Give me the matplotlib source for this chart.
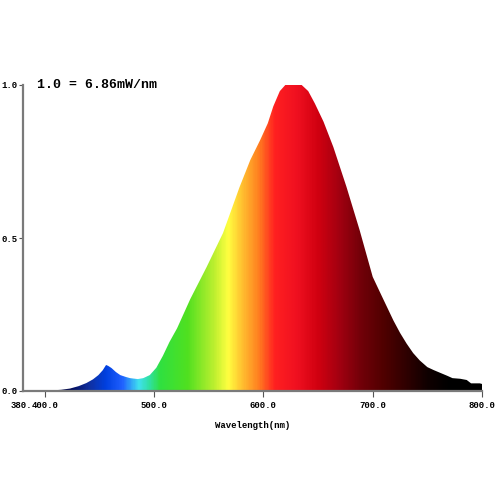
import numpy as np
import matplotlib
matplotlib.use("Agg")
import matplotlib.pyplot as plt
from matplotlib.colors import LinearSegmentedColormap

# spectrum, relative intensity, 1.0 = 6.86 mW/nm
wavelength = [380, 400, 407, 415, 423, 431, 438, 444, 449, 453, 456, 458, 461, 465,
              469, 474, 478, 485, 490, 496, 502, 508, 514, 521, 533, 548, 563,
              578, 588, 597, 604, 609, 615, 620, 635, 641, 647, 655, 664,
              676, 688, 700, 707, 713, 719, 725, 731, 737, 743, 750, 756, 762,
              768, 773, 780, 786, 790, 798, 800]
intensity = [0.0, 0.0, 0.002, 0.004, 0.008, 0.016, 0.026, 0.038, 0.052, 0.068, 0.085,
             0.082, 0.075, 0.062, 0.052, 0.046, 0.042, 0.039, 0.042, 0.052, 0.076,
             0.115, 0.16, 0.205, 0.3, 0.405, 0.516, 0.665, 0.755, 0.82, 0.875,
             0.93, 0.98, 1.0, 1.0, 0.98, 0.94, 0.88, 0.797, 0.667, 0.526, 0.373,
             0.32, 0.275, 0.23, 0.19, 0.155, 0.124, 0.1, 0.078, 0.068, 0.059,
             0.05, 0.042, 0.04, 0.036, 0.025, 0.025, 0.023]

x_ticks = [400, 500, 600, 700, 800]
x_ticklabels = ["400.0", "500.0", "600.0", "700.0", "800.0"]
y_ticks = [0.0, 0.5, 1.0]
y_ticklabels = ["0.0", "0.5", "1.0"]

# colour of the fill along the wavelength axis
color_nm = [380, 420, 440, 455, 470, 485, 495, 505, 530, 555, 567, 580, 595,
            610, 630, 650, 670, 690, 710, 730, 750, 770, 800]
color_hex = ["#000030", "#000850", "#1030a0", "#0040e0", "#2060ff", "#40e0f0",
             "#30e0a0", "#30e040", "#50e020", "#c0f030", "#ffff40", "#ffc030",
             "#ff8020", "#ff2020", "#f01020", "#d00010", "#a00010", "#700008",
             "#500000", "#300000", "#100000", "#000000", "#000000"]

mono = "Liberation Mono"

fig = plt.figure(figsize=(5, 5), dpi=100)
ax = fig.add_axes([23 / 500, 1 - 391 / 500, (482 - 23) / 500, (391 - 85) / 500])

pos = [(v - 380) / (800 - 380) for v in color_nm]
cmap = LinearSegmentedColormap.from_list("spec", list(zip(pos, color_hex)))

poly = ax.fill_between(wavelength, intensity, 0, color="none", lw=0)
grad = np.linspace(0, 1, 600).reshape(1, -1)
img = ax.imshow(grad, cmap=cmap, extent=[380, 800, 0, 1], aspect="auto",
                interpolation="bilinear", zorder=1)
img.set_clip_path(poly.get_paths()[0], transform=ax.transData)

ax.set_xlim(380, 800)
ax.set_ylim(0, 1.0)

for s in ["top", "right"]:
    ax.spines[s].set_visible(False)
for s in ["left", "bottom"]:
    ax.spines[s].set_color("#7a7a7a")
    ax.spines[s].set_linewidth(1.6)

ax.set_xticks(x_ticks)
ax.set_xticklabels(x_ticklabels, fontfamily=mono, fontweight="bold", fontsize=6.5)
ax.set_yticks(y_ticks)
ax.set_yticklabels(y_ticklabels, fontfamily=mono, fontweight="bold", fontsize=6.5)
ax.tick_params(axis="x", length=4, width=0.8, color="#555555", pad=3)
ax.tick_params(axis="y", length=3, width=0.8, color="#555555", pad=1)

# the 380 label running into the 400 label
ax.text(388, -0.032, "380.", transform=ax.get_xaxis_transform(), ha="right",
        va="top", fontfamily=mono, fontweight="bold", fontsize=6.5, clip_on=False)

ax.set_xlabel("Wavelength(nm)", fontfamily=mono, fontweight="bold", fontsize=6.5,
              labelpad=8)

fig.text(37 / 500, 1 - 85 / 500, "1.0 = 6.86mW/nm", fontfamily=mono,
         fontweight="bold", fontsize=9.5, va="center", ha="left")

fig.savefig("out.png", dpi=100)
